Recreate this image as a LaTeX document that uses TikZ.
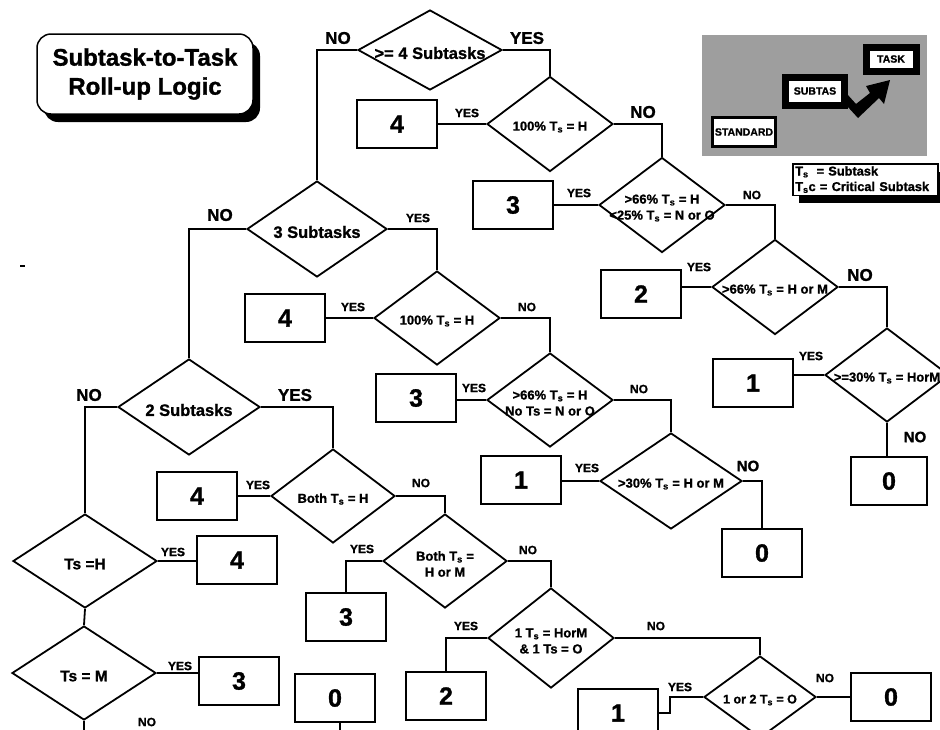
\documentclass[tikz,border=0pt]{standalone}
\usepackage{fontspec}
\setmainfont{Liberation Sans}[BoldFeatures={FakeBold=1.2}]
\usetikzlibrary{shapes.geometric,shadows}

\newcommand{\Tsub}{T\textsubscript{s}}
\newcommand{\flfont}[2]{\bfseries\fontsize{#1}{#2}\selectfont}

\tikzset{
  dia/.style={diamond,draw,line width=1.8pt,inner sep=0pt,minimum width=126pt,minimum height=95pt},
  dtxt/.style={font=\flfont{13}{16},align=center,inner sep=0pt,yshift=-3pt},
  dbig/.style={dtxt,font=\flfont{16.5}{17}},
  outbox/.style={draw,line width=2.2pt,minimum width=80pt,minimum height=48pt,inner sep=0pt,font=\flfont{25}{25}},
  conn/.style={line width=1.8pt},
  sm/.style={font=\flfont{12}{12},inner sep=0pt},
  lg/.style={font=\flfont{17}{17},inner sep=0pt},
  ttl/.style={draw,line width=1.5pt,rounded corners=14pt,fill=white,align=center,
    minimum width=216pt,minimum height=80pt,font=\flfont{24}{29},
    drop shadow={shadow xshift=7pt,shadow yshift=-8pt,fill=black,opacity=1}},
  tbox/.style={draw,fill=white,inner sep=0pt,font=\flfont{10.5}{10.5}},
  legbox/.style={draw,line width=1.5pt,fill=white,anchor=north west,align=left,
    text width=140pt,inner sep=2.5pt,font=\flfont{12.8}{15.5},
    drop shadow={shadow xshift=6pt,shadow yshift=-8pt,fill=black,opacity=1}},
}

\begin{document}
\begin{tikzpicture}[x=1pt,y=-1pt]
  \useasboundingbox (0,0) rectangle (940,729);

  % title
  \node[ttl] (title) at (145,74) {Subtask-to-Task\\Roll-up Logic};
  \draw[line width=1.5pt] (20,266) -- (25,266);

  % task picture and legend
  \fill[black!38] (702,35) rectangle (927,156);
  \node[tbox,line width=7pt,minimum width=50pt,minimum height=24pt] (task) at (891,59) {TASK};
  \node[tbox,line width=7pt,minimum width=59pt,minimum height=28pt] (subt) at (815,91) {SUBTAS};
  \node[tbox,line width=3pt,minimum width=63pt,minimum height=29pt] (std) at (744,132) {STANDARD};
  \fill (847,94) -- (856,104) -- (870,93) -- (866,86) -- (890,80) -- (884,104)
    -- (879,98) -- (858,118) -- (847,106) -- cycle;
  \node[legbox] (leg) at (792,163) {\Tsub\hspace{8pt}= Subtask\\\Tsub c = Critical Subtask};

  % >= 4 subtasks branch
  \node[dia,minimum width=144pt,minimum height=80pt,label={[dbig]center:{>= 4 Subtasks}}] (d1) at (430,50) {};
  \node[dia,label={[dtxt]center:{100\% \Tsub\ = H}}] (d2) at (550,124) {};
  \node[dia,label={[dtxt]center:{>66\% \Tsub\ = H\\<25\% \Tsub\ = N or O}}] (d3) at (662,205) {};
  \node[dia,label={[dtxt]center:{>66\% \Tsub\ = H or M}}] (d4) at (775,287) {};
  \node[dia,minimum width=124pt,minimum height=94pt,label={[dtxt]center:{>=30\% \Tsub\ = HorM}}] (d5) at (887,375) {};
  \node[outbox] (b4a) at (397,124) {4};
  \node[outbox] (b3a) at (513,205) {3};
  \node[outbox] (b2a) at (641,294) {2};
  \node[outbox] (b1a) at (753,383) {1};
  \node[outbox,minimum width=76pt] (b0a) at (889,481) {0};

  % 3 subtasks branch
  \node[dia,minimum width=140pt,minimum height=96pt,label={[dbig]center:{3 Subtasks}}] (d6) at (317,229) {};
  \node[dia,minimum height=94pt,label={[dtxt]center:{100\% \Tsub\ = H}}] (d7) at (437,318) {};
  \node[dia,minimum height=94pt,label={[dtxt]center:{>66\% \Tsub\ = H\\No Ts = N or O}}] (d8) at (550,400) {};
  \node[dia,minimum width=142pt,minimum height=96pt,label={[dtxt]center:{>30\% \Tsub\ = H or M}}] (d9) at (671,481) {};
  \node[outbox] (b4b) at (285,318) {4};
  \node[outbox] (b3b) at (416,398) {3};
  \node[outbox] (b1b) at (521,480) {1};
  \node[outbox] (b0b) at (762,553) {0};

  % 2 subtasks branch
  \node[dia,minimum width=142pt,minimum height=96pt,label={[dbig]center:{2 Subtasks}}] (d14) at (189,407) {};
  \node[dia,minimum width=124pt,minimum height=94pt,label={[dtxt]center:{Both \Tsub\ = H}}] (d10) at (333,496) {};
  \node[dia,minimum width=124pt,minimum height=94pt,label={[dtxt]center:{Both \Tsub\ =\\H or M}}] (d11) at (445,561) {};
  \node[dia,minimum height=100pt,label={[dtxt]center:{1 \Tsub\ = HorM\\\& 1 Ts = O}}] (d12) at (551,638) {};
  \node[dia,minimum width=112pt,minimum height=82pt,label={[dtxt,font=\flfont{12.5}{12.5}]center:{1 or 2 \Tsub\ = O}}] (d13) at (760,697) {};
  \node[outbox] (b4c) at (197,496) {4};
  \node[outbox] (b3c) at (346,617) {3};
  \node[outbox] (b2d) at (446,696) {2};
  \node[outbox] (b1d) at (618,713) {1};
  \node[outbox] (b0d) at (891,697) {0};

  % 1 subtask
  \node[dia,minimum width=144pt,minimum height=94pt,label={[dbig,font=\flfont{15.5}{16}]center:{Ts =H}}] (d15) at (85,561) {};
  \node[dia,minimum width=144pt,minimum height=94pt,label={[dbig,font=\flfont{15.5}{16}]center:{Ts = M}}] (d16) at (84,673) {};
  \node[outbox] (b4e) at (237,560) {4};
  \node[outbox] (b3e) at (239,681) {3};
  \node[outbox] (b0c) at (335,698) {0};
  \coordinate (bot) at (0,740);

  % connectors
  \draw[conn] (d1.west) -| (d6.north);
  \draw[conn] (d1.east) -| (d2.north);
  \draw[conn] (d2.west) -- (d2.west -| b4a.east);
  \draw[conn] (d2.east) -| (d3.north);
  \draw[conn] (d3.west) -- (d3.west -| b3a.east);
  \draw[conn] (d3.east) -| (d4.north);
  \draw[conn] (d4.west) -- (d4.west -| b2a.east);
  \draw[conn] (d4.east) -| (d5.north);
  \draw[conn] (d5.west) -- (d5.west -| b1a.east);
  \draw[conn] (d5.south) -- (d5.south |- b0a.north);

  \draw[conn] (d6.west) -| (d14.north);
  \draw[conn] (d6.east) -| (d7.north);
  \draw[conn] (d7.west) -- (d7.west -| b4b.east);
  \draw[conn] (d7.east) -| (d8.north);
  \draw[conn] (d8.west) -- (d8.west -| b3b.east);
  \draw[conn] (d8.east) -| (d9.north);
  \draw[conn] (d9.west) -- (d9.west -| b1b.east);
  \draw[conn] (d9.east) -| (b0b.north);

  \draw[conn] (d14.west) -| (d15.north);
  \draw[conn] (d14.east) -| (d10.north);
  \draw[conn] (d10.west) -- (d10.west -| b4c.east);
  \draw[conn] (d10.east) -| (d11.north);
  \draw[conn] (d11.west) -| (b3c.north);
  \draw[conn] (d11.east) -| (d12.north);
  \draw[conn] (d12.west) -| (b2d.north);
  \draw[conn] (d12.east) -| (d13.north);
  \draw[conn] (d13.west) -- ++(-33,0) |- (b1d.east);
  \draw[conn] (d13.east) -- (d13.east -| b0d.west);

  \draw[conn] (d15.east) -- (d15.east -| b4e.west);
  \draw[conn] (d15.south) -- (d16.north);
  \draw[conn] (d16.east) -- (d16.east -| b3e.west);
  \draw[conn] (d16.south) -- (d16.south |- bot);
  \draw[conn] ([xshift=5pt]b0c.south) -- ([xshift=5pt]b0c.south |- bot);

  % yes / no labels
  \node[lg] (n1) at (338,38) {NO};
  \node[lg] (y1) at (527,38) {YES};
  \node[sm] (y2) at (467,113) {YES};
  \node[lg] (n2) at (643,112) {NO};
  \node[sm] (y3) at (579,193) {YES};
  \node[sm] (n3) at (752,195) {NO};
  \node[sm] (y4) at (699,267) {YES};
  \node[lg] (n4) at (860,275) {NO};
  \node[sm] (y5) at (811,356) {YES};
  \node[lg,font=\flfont{15}{15}] (n5) at (915,437) {NO};
  \node[lg] (n6) at (220,215) {NO};
  \node[sm] (y6) at (418,218) {YES};
  \node[sm] (y7) at (353,307) {YES};
  \node[sm] (n7) at (527,307) {NO};
  \node[sm] (y8) at (474,388) {YES};
  \node[sm] (n8) at (639,389) {NO};
  \node[sm] (y9) at (587,468) {YES};
  \node[lg,font=\flfont{15}{15}] (n9) at (748,466) {NO};
  \node[lg] (n14) at (89,395) {NO};
  \node[lg] (y14) at (295,395) {YES};
  \node[sm] (y10) at (258,485) {YES};
  \node[sm] (n10) at (421,483) {NO};
  \node[sm] (y11) at (362,549) {YES};
  \node[sm] (n11) at (528,550) {NO};
  \node[sm] (y12) at (466,626) {YES};
  \node[sm] (n12) at (656,626) {NO};
  \node[sm] (y13) at (680,687) {YES};
  \node[sm] (n13) at (825,678) {NO};
  \node[sm] (y15) at (173,552) {YES};
  \node[sm] (y16) at (180,666) {YES};
  \node[sm] (n16) at (147,722) {NO};
\end{tikzpicture}
\end{document}
